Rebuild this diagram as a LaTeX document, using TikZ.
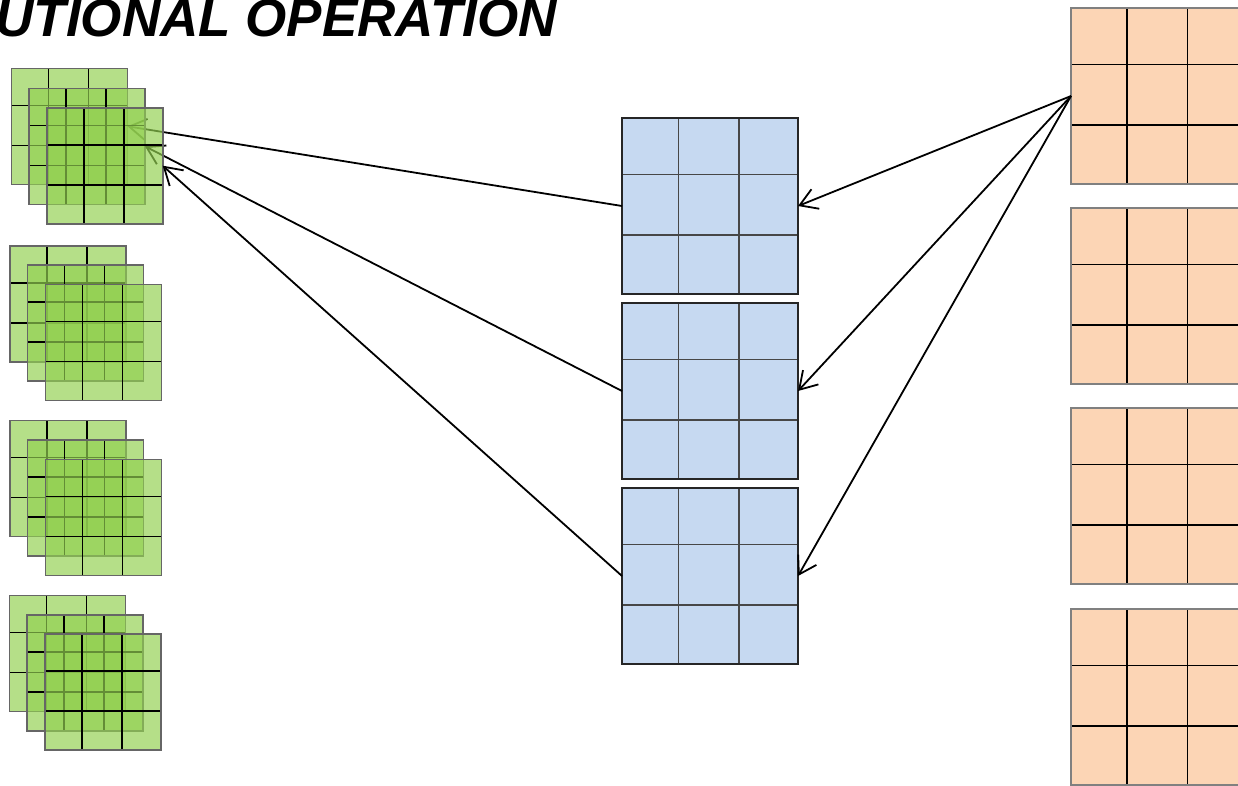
\documentclass[tikz,border=0pt]{standalone}
\usepackage{fontspec}
\newfontfamily\titlefont{Liberation Sans}
\usetikzlibrary{arrows.meta,calc}
\definecolor{ggreen}{HTML}{92D050}
\definecolor{gblue}{HTML}{C6D9F1}
\definecolor{gorange}{HTML}{FCD5B5}
\begin{document}
\begin{tikzpicture}[x=1pt,y=-1pt,
  gridlines/.style={path picture={
    \foreach \f in {0.32,0.665}{
      \draw[#1] ($(path picture bounding box.north west)!\f!(path picture bounding box.north east)$) -- ($(path picture bounding box.south west)!\f!(path picture bounding box.south east)$);
      \draw[#1] ($(path picture bounding box.north west)!\f!(path picture bounding box.south west)$) -- ($(path picture bounding box.north east)!\f!(path picture bounding box.south east)$);
    }}},
  cell/.style={rectangle, anchor=north west, inner sep=0pt, outer sep=0pt},
  ggrid/.style={cell, minimum width=116pt, minimum height=116pt, fill=ggreen, fill opacity=0.68,
    draw=black!60, line width=1.6pt, gridlines={black, line width=1.4pt}},
  bgrid/.style={cell, minimum width=176pt, minimum height=176pt, fill=gblue,
    draw=black!85, line width=1.5pt, gridlines={black!72, line width=1.5pt}},
  ogrid/.style={cell, minimum width=175pt, minimum height=176pt, fill=gorange,
    draw=black!50, line width=1.7pt, gridlines={black, line width=1.5pt}},
  arr/.style={line width=1.8pt, -{Straight Barb[length=17pt,width=21pt,line width=1.8pt]}}
]
\useasboundingbox (0,0) rectangle (1238,785);
\begin{scope}
\clip (0,0) rectangle (1238,785);
% title
\node[anchor=base east, inner sep=0pt, font=\titlefont\bfseries\itshape\fontsize{53}{63}\selectfont] (title) at (557,36) {CONVOLUTIONAL OPERATION};

% orange grids
\node[ogrid] (o1) at (1071,8) {};
\node[ogrid] (o2) at (1071,208) {};
\node[ogrid] (o3) at (1071,408) {};
\node[ogrid] (o4) at (1071,609) {};

% blue grids
\node[bgrid] (b1) at (622,118) {};
\node[bgrid] (b2) at (622,303) {};
\node[bgrid] (b3) at (622,488) {};

% arrows orange -> blue
\draw[arr] (o1.west) -- (b1.east);
\draw[arr] (o1.west) -- (b2.east);
\draw[arr] (o1.west) -- (b3.east);

% green stack 1 with arrows between layers
\node[ggrid] (g1a) at (11.5,68.3) {};
\draw[arr] (b1.west) -- (g1a.east);
\node[ggrid] (g1b) at (29,88.3) {};
\draw[arr] (b2.west) -- (g1b.east);
\node[ggrid] (g1c) at (46.7,107.7) {};
\draw[arr] (b3.west) -- (g1c.east);

% green stack 2
\node[ggrid] (g2a) at (10,245.7) {};
\node[ggrid] (g2b) at (27.3,265) {};
\node[ggrid] (g2c) at (45.3,284.3) {};
% green stack 3
\node[ggrid] (g3a) at (10,420.5) {};
\node[ggrid] (g3b) at (27.3,440) {};
\node[ggrid] (g3c) at (45.3,459.3) {};
% green stack 4
\node[ggrid] (g4a) at (9.3,595.3) {};
\node[ggrid] (g4b) at (27,615) {};
\node[ggrid] (g4c) at (45,634) {};
\end{scope}
\end{tikzpicture}
\end{document}
